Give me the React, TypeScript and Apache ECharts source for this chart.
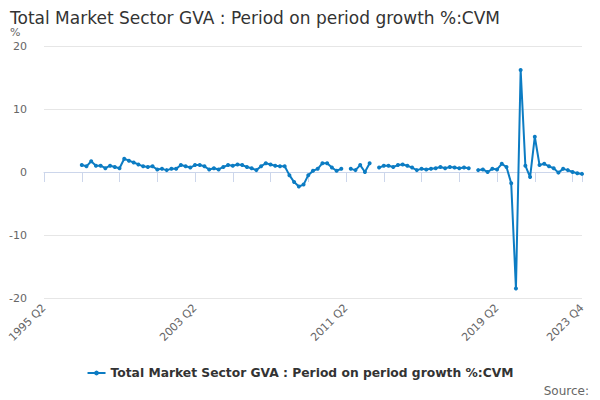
import { useEffect, useRef } from "react"
import * as echarts from "echarts"

const seriesName = "Total Market Sector GVA : Period on period growth %:CVM"

// quarters from 1995 Q2 to 2023 Q4
const quarters: string[] = []
for (let y = 1995; y <= 2023; y++) {
  for (let q = 1; q <= 4; q++) {
    if (y === 1995 && q < 2) continue
    quarters.push(`${y} Q${q}`)
  }
}

const growth: (number | null)[] = [
  null, null, null, null, null, null, null, null,
  1.1, 0.9, 1.7, 1.0, 1.0, 0.6, 1.0, 0.8, 0.6, 2.1,
  1.8, 1.5, 1.2, 0.9, 0.8, 0.9, 0.4, 0.5, 0.3, 0.5,
  0.5, 1.1, 0.9, 0.7, 1.1, 1.1, 0.9, 0.4, 0.6, 0.4,
  0.8, 1.1, 1.0, 1.2, 1.1, 0.8, 0.6, 0.3, 0.9, 1.4,
  1.2, 1.0, 0.9, 0.9, -0.5, -1.6, -2.3, -2.0, -0.5, 0.2,
  0.5, 1.4, 1.4, 0.7, 0.2, 0.5, null, 0.5, 0.3, 1.1,
  0.0, 1.4, null, 0.7, 1.0, 1.0, 0.8, 1.1, 1.2, 1.0,
  0.7, 0.3, 0.5, 0.4, 0.5, 0.6, 0.8, 0.6, 0.8, 0.7,
  0.6, 0.7, 0.6, null, 0.3, 0.4, 0.0, 0.5, 0.4, 1.3,
  0.8, -1.8, -18.5, 16.2, 1.0, -0.8, 5.6, 1.1, 1.3, 0.9,
  0.6, -0.1, 0.5, 0.3, 0.0, -0.2, -0.3,
]

const labelEvery = 32
const tickEvery = 8

export default function App() {
  const chartRef = useRef<HTMLDivElement>(null)

  useEffect(() => {
    if (!chartRef.current) return
    const chart = echarts.init(chartRef.current, null, { renderer: "svg" })
    const last = quarters.length - 1
    const font = "DejaVu Sans"

    chart.setOption({
      animation: false,
      textStyle: { fontFamily: font },
      title: {
        text: "Total Market Sector GVA : Period on period growth %:CVM",
        left: 5,
        top: 4,
        textStyle: { fontSize: 17, fontWeight: "normal", color: "#333333", fontFamily: font },
      },
      grid: { left: 44, right: 18, top: 46, bottom: 102 },
      legend: {
        bottom: 16,
        left: "center",
        itemWidth: 18,
        itemHeight: 6,
        textStyle: { fontSize: 12.3, fontWeight: "bold", color: "#333333", fontFamily: font },
        data: [seriesName],
      },
      graphic: [
        {
          type: "text",
          left: 10,
          top: 27,
          style: { text: "%", fontSize: 11, fill: "#666666", fontFamily: font },
        },
        {
          type: "text",
          right: 11,
          top: 385,
          style: { text: "Source:", fontSize: 12, fill: "#666666", fontFamily: font },
        },
      ],
      xAxis: {
        type: "category",
        data: quarters,
        boundaryGap: false,
        axisLine: { lineStyle: { color: "#ccd6eb" } },
        axisTick: {
          length: 10,
          lineStyle: { color: "#ccd6eb" },
          interval: (i: number) => i % tickEvery === 0 || i === last,
        },
        axisLabel: {
          rotate: 45,
          fontSize: 11,
          color: "#666666",
          margin: 8,
          interval: (i: number) => i % labelEvery === 0 || i === last,
        },
        splitLine: { show: false },
      },
      yAxis: {
        type: "value",
        min: -20,
        max: 20,
        interval: 10,
        axisLine: { show: false },
        axisTick: { show: false },
        axisLabel: { fontSize: 11, color: "#666666", margin: 17 },
        splitLine: { lineStyle: { color: "#e6e6e6" } },
      },
      series: [
        {
          name: seriesName,
          type: "line",
          data: growth,
          connectNulls: false,
          symbol: "circle",
          symbolSize: 4,
          showSymbol: true,
          showAllSymbol: true,
          color: "#0c7cc3",
          lineStyle: { width: 2, color: "#0c7cc3" },
          itemStyle: { color: "#0c7cc3" },
        },
      ],
    })

    return () => {
      chart.dispose()
    }
  }, [])

  return (
    <div
      ref={chartRef}
      style={{ position: "absolute", left: 0, top: 0, width: 600, height: 400 }}
    />
  )
}
